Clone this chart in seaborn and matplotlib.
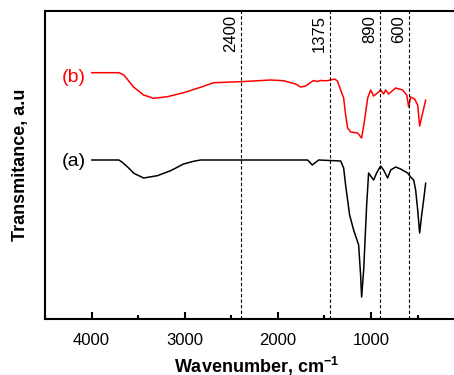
import matplotlib
matplotlib.use("Agg")
import matplotlib.pyplot as plt
import matplotlib.transforms as mtransforms
from matplotlib.ticker import MultipleLocator, FixedLocator
import seaborn as sns
import pandas as pd

# ---- data (transmittance in arbitrary units) ----
wn_b = [4000, 3707, 3653, 3616, 3546, 3441, 3334, 3185, 3012, 2830, 2690, 2400,
        2077, 1940, 1809, 1755, 1700, 1640, 1615, 1580, 1540, 1480, 1433, 1390,
        1360, 1325, 1293, 1272, 1250, 1218, 1143, 1100, 1068, 1035, 1003, 971,
        917, 896, 864, 842, 810, 735, 660, 615, 595, 574, 531, 498, 477, 455, 412]
tr_b = [247.3, 247.3, 245, 240.7, 232.7, 225, 221.7, 223.3, 227.3, 232.7, 237.3, 238.3,
        240, 239.3, 236, 233, 234, 238, 239.5, 238.5, 239.5, 239.2, 240, 241,
        239, 230, 222, 205, 192, 188, 187, 182, 200, 222, 230, 224,
        228, 230, 226, 230, 226, 232, 230, 225, 213, 223, 221, 215, 194, 203, 220]

wn_a = [4000, 3707, 3670, 3616, 3546, 3441, 3294, 3151, 3012, 2905, 2830, 1680,
        1630, 1562, 1325, 1293, 1272, 1229, 1186, 1132, 1111, 1100, 1078, 1046,
        1025, 1003, 971, 939, 896, 864, 821, 788, 735, 681, 606, 574, 541, 520,
        498, 477, 455, 434, 412]
tr_a = [160, 160, 157.7, 153.3, 146.7, 142, 144.3, 149.3, 156, 158.7, 160, 160,
        155, 160, 159, 152, 135, 105, 90, 75, 45, 23, 50, 115,
        147, 144, 140, 147, 154, 150, 142, 150, 153, 151, 147, 143, 140, 130,
        110, 87, 105, 120, 137]

series_labels = ["(a)", "(b)"]
series_colors = ["black", "red"]

marker_wn = [2395, 1440, 905, 590]
marker_labels = ["2400", "1375", "890", "600"]

xticks_major = [4000, 3000, 2000, 1000, 0]

df = pd.concat([
    pd.DataFrame({"wn": wn_a, "T": tr_a, "s": "(a)"}),
    pd.DataFrame({"wn": wn_b, "T": tr_b, "s": "(b)"}),
])

sns.set_style("ticks")
plt.rcParams["font.family"] = ["Liberation Sans", "DejaVu Sans"]
plt.rcParams["xtick.direction"] = "in"
plt.rcParams["mathtext.fontset"] = "custom"
plt.rcParams["mathtext.rm"] = "Liberation Sans"
plt.rcParams["mathtext.bf"] = "Liberation Sans:bold"

fig = plt.figure(figsize=(4.54, 3.75), dpi=100)
ax = fig.add_axes([45 / 454, 56 / 375, 447 / 454, 308 / 375])

sns.lineplot(data=df, x="wn", y="T", hue="s", palette=dict(zip(series_labels, series_colors)),
             sort=False, estimator=None, linewidth=1.1, legend=False, ax=ax)

ax.set_xlim(4500, -300)
ax.set_ylim(1, 309)
ax.set_xlabel("")
ax.set_ylabel("")

for w in marker_wn:
    ax.axvline(w, color="black", linestyle=(0, (3, 2)), linewidth=0.8)

trans = mtransforms.blended_transform_factory(ax.transData, ax.transAxes)
for w, lab in zip(marker_wn, marker_labels):
    ax.annotate(lab, xy=(w, 1.0), xycoords=trans, xytext=(-2, -3), textcoords="offset points",
                rotation=90, ha="right", va="top", fontsize=12, color="black")

ax.text(4315, 158, "(a)", color="black", fontsize=14, ha="left", va="center")
ax.text(4315, 242, "(b)", color="red", fontsize=14, ha="left", va="center")

for sp in ax.spines.values():
    sp.set_visible(True)
    sp.set_linewidth(1.5)
    sp.set_color("black")

fig.text(257 / 454, 1 - 366 / 375, "Wavenumber, cm$^{\\mathbf{-1}}$", ha="center", va="center",
         fontsize=13, fontweight="bold", color="black")
fig.text(21 / 454, 1 - 165 / 375, "Transmitance, a.u", ha="center", va="center",
         rotation=90, fontsize=13, fontweight="bold", color="black")

# ticks configured last
ax.set_yticks([])
ax.xaxis.set_major_locator(FixedLocator(xticks_major))
ax.xaxis.set_minor_locator(MultipleLocator(500))
ax.tick_params(axis="x", which="major", direction="in", length=5, width=1.5,
               labelsize=12, pad=10, bottom=True, top=False, color="black", labelcolor="black")
ax.tick_params(axis="x", which="minor", direction="in", length=3, width=1.5,
               bottom=True, top=False, color="black")

fig.canvas.draw()
for t in ax.xaxis.get_major_ticks() + ax.xaxis.get_minor_ticks():
    t.tick1line.set_visible(True)
    t.tick1line.set_color("black")
fig.savefig("out.png", dpi=100)
